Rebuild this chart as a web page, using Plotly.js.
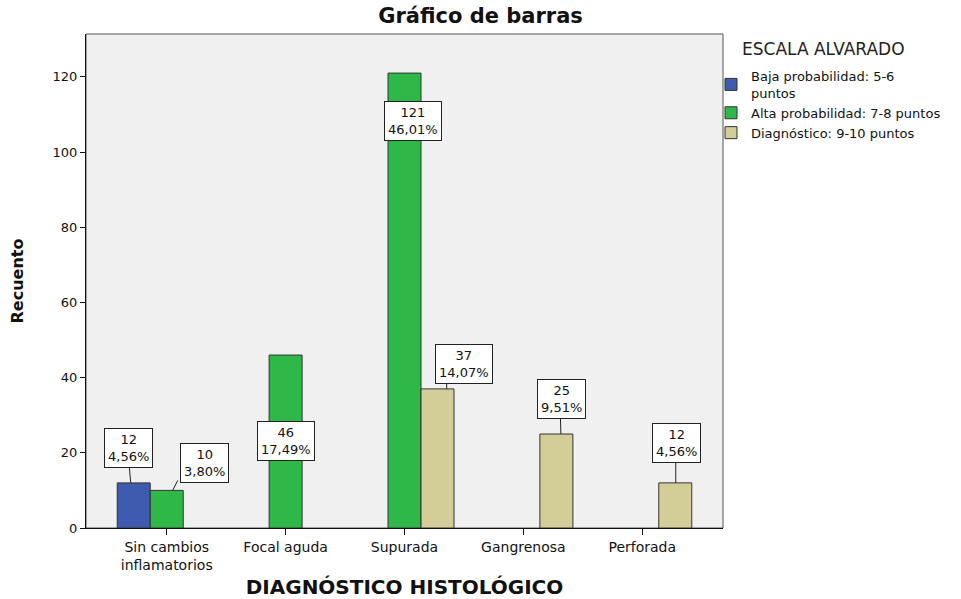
<!DOCTYPE html>
<html>
<head>
<meta charset="utf-8">
<script src="https://cdn.plot.ly/plotly-3.0.1.min.js"></script>
<style>
  html, body { margin: 0; padding: 0; background: #ffffff; }
  #chart { width: 961px; height: 599px; }
</style>
</head>
<body>
<div id="chart"></div>
<script>
// ---- data ----
const categories = ['Sin cambios<br>inflamatorios', 'Focal aguda', 'Supurada', 'Gangrenosa', 'Perforada'];
const seriesNames = ['Baja probabilidad: 5-6<br>puntos', 'Alta probabilidad: 7-8 puntos', 'Diagnóstico: 9-10 puntos'];
const bajaProb = [12, null, null, null, null];
const altaProb = [10, 46, 121, null, null];
const diagnostico = [null, null, 37, 25, 12];
const yTicks = [0, 20, 40, 60, 80, 100, 120];

// ---- style ----
const colors = ['#3e5bb0', '#2db848', '#d3ce97'];
const FONT = 'DejaVu Sans, Arial, sans-serif';
const BARGAP = 0.1675;
// label box placement per "trace-category": [xshift, yshift, line dx0, line dx1, line length] (pixels)
const labelPlace = {
  '0-0': [-5.5, 35, -3, -4.5, 17],
  '1-0': [38, 27.6, 6, 11, 10],
  '1-1': [0, -86, null, null, 0],
  '1-2': [8.7, -48, null, null, 0],
  '2-2': [26.3, 25, 9.2, 9.2, 7],
  '2-3': [4.8, 35.5, 4.5, 4, 18],
  '2-4': [1, 40, 0.5, 0.5, 22]
};

const series = [bajaProb, altaProb, diagnostico];
const idx = categories.map((c, i) => i);
const total = series.reduce((s, arr) => s + arr.reduce((a, v) => a + (v || 0), 0), 0);
const barW = (1 - BARGAP) / series.length;

const traces = series.map((vals, t) => ({
  type: 'bar',
  name: seriesNames[t],
  x: idx,
  y: vals,
  marker: { color: colors[t], line: { color: '#333333', width: 1 } },
  hoverinfo: 'x+y+name'
}));

const annotations = [];
const shapes = [{
  type: 'rect', xref: 'paper', yref: 'paper', x0: 0, x1: 1, y0: 0, y1: 1,
  line: { color: '#555555', width: 1 }, layer: 'below'
}];

series.forEach((vals, t) => {
  vals.forEach((v, c) => {
    if (v === null) return;
    const key = t + '-' + c;
    const p = labelPlace[key] || [0, 30, null, null, 0];
    const xPos = c + (t - (series.length - 1) / 2) * barW;
    const pct = (v / total * 100).toFixed(2).replace('.', ',') + '%';
    annotations.push({
      xref: 'x', yref: 'y', x: xPos, y: v,
      xshift: p[0], yshift: p[1],
      text: v + '<br>' + pct,
      showarrow: false,
      font: { family: FONT, size: 13, color: '#111111' },
      bgcolor: '#ffffff', bordercolor: '#222222', borderwidth: 1, borderpad: 3,
      align: 'center', xanchor: 'center', yanchor: 'middle'
    });
    if (p[2] !== null && p[4] > 0) {
      shapes.push({
        type: 'line', xref: 'x', yref: 'y',
        xsizemode: 'pixel', ysizemode: 'pixel',
        xanchor: xPos, yanchor: v,
        x0: p[2], x1: p[3], y0: 0, y1: p[4],
        line: { color: '#222222', width: 1 }, layer: 'above'
      });
    }
  });
});

// legend title as text above the legend items
annotations.push({
  xref: 'paper', yref: 'paper', x: (740 - 86) / 637, y: (528 - 49) / 494,
  xanchor: 'left', yanchor: 'middle', showarrow: false,
  text: 'ESCALA ALVARADO',
  font: { family: FONT, size: 17, color: '#222222' }
});

const layout = {
  width: 961, height: 599,
  margin: { l: 86, r: 238, t: 34, b: 71, pad: 0, autoexpand: false },
  paper_bgcolor: '#ffffff',
  plot_bgcolor: '#f0f0f0',
  barmode: 'group', bargap: BARGAP, bargroupgap: 0,
  title: {
    text: '<b>Gráfico de barras</b>',
    font: { family: FONT, size: 21, color: '#111111' },
    x: 0.5, xref: 'container', xanchor: 'center',
    y: 1 - 16 / 599, yref: 'container', yanchor: 'middle'
  },
  xaxis: {
    range: [-0.679, 4.679],
    tickvals: idx, ticktext: categories,
    ticks: 'outside', ticklen: 6, tickcolor: '#111111', tickwidth: 1,
    showline: true, linecolor: '#111111', linewidth: 1,
    showgrid: false, zeroline: false,
    tickfont: { family: FONT, size: 14, color: '#111111' },
    title: {
      text: '<b>DIAGNÓSTICO HISTOLÓGICO</b>',
      font: { family: FONT, size: 20, color: '#111111' },
      standoff: 12
    }
  },
  yaxis: {
    range: [0, 131.4],
    tickvals: yTicks,
    ticks: 'outside', ticklen: 5, tickcolor: '#111111', tickwidth: 1,
    showline: true, linecolor: '#111111', linewidth: 1,
    showgrid: false, zeroline: false,
    tickfont: { family: FONT, size: 13, color: '#111111' },
    title: {
      text: '<b>Recuento</b>',
      font: { family: FONT, size: 16, color: '#111111' },
      standoff: 24
    }
  },
  legend: {
    x: (711 - 86) / 637, xanchor: 'left',
    y: (528 - 61) / 494, yanchor: 'top',
    bgcolor: 'rgba(0,0,0,0)', borderwidth: 0,
    font: { family: FONT, size: 13, color: '#111111' },
    tracegroupgap: 0, traceorder: 'normal'
  },
  showlegend: true,
  annotations: annotations,
  shapes: shapes
};

Plotly.newPlot('chart', traces, layout, { displayModeBar: false, staticPlot: true });
</script>
</body>
</html>
